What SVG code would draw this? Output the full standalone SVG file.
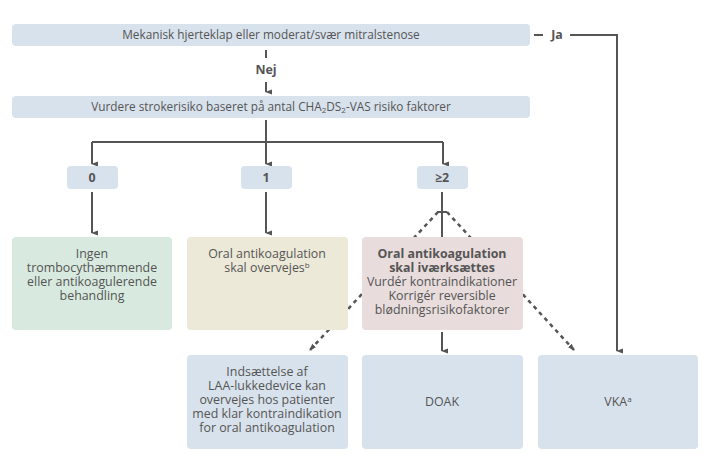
<svg xmlns="http://www.w3.org/2000/svg" width="710" height="473" viewBox="0 0 710 473">
<defs>
<marker id="a" viewBox="0 0 8 8" refX="4" refY="7" markerWidth="7" markerHeight="7" orient="auto-start-reverse" markerUnits="userSpaceOnUse"><path d="M1,0 L4,8 L7,0 Z" fill="#555"/></marker>
<marker id="ar" viewBox="0 0 8 8" refX="7" refY="4" markerWidth="7" markerHeight="7" orient="auto" markerUnits="userSpaceOnUse"><path d="M0,1 L8,4 L0,7 Z" fill="#555"/></marker>
</defs>
<style>
text{font-family:"Open Sans","Noto Sans",sans-serif;font-size:12.4px;fill:#555;text-anchor:middle}
.s{font-size:11.8px}
.b{font-weight:bold}
.blue{fill:#d8e2ec}
.l{stroke:#555;stroke-width:2;fill:none}
.d{stroke:#555;stroke-width:2.5;fill:none;stroke-dasharray:4 4}
</style>
<rect width="710" height="473" fill="#fff"/>
<g id="connectors">
<path class="d" d="M438,212 L310,350" marker-end="url(#ar)"/>
<path class="d" d="M447,212 L574,350" marker-end="url(#ar)"/>
<path class="l" d="M266,50 V58"/>
<path class="l" d="M266,82 V92" marker-end="url(#a)"/>
<path class="l" d="M266,120 V142 M92,142 H443"/>
<path class="l" d="M92,142 V164" marker-end="url(#a)"/>
<path class="l" d="M266,142 V164" marker-end="url(#a)"/>
<path class="l" d="M443,142 V164" marker-end="url(#a)"/>
<path class="l" d="M92,192 V233" marker-end="url(#a)"/>
<path class="l" d="M266,192 V233" marker-end="url(#a)"/>
<path class="l" d="M442,192 V237 M437,212 H447"/>
<path class="l" d="M442,332 V351" marker-end="url(#a)"/>
<path class="l" d="M534,35 H543 M570,35 H617 V351" marker-end="url(#a)"/>
<text x="266" y="74" class="b">Nej</text>
<text x="557" y="39" class="b">Ja</text>
</g>
<g id="n1"><rect class="blue" x="12" y="24" width="518" height="22" rx="4"/><text x="271" y="39" class="s">Mekanisk hjerteklap eller moderat/svær mitralstenose</text></g>
<g id="n2"><rect class="blue" x="12" y="96" width="518" height="22" rx="4"/><text x="271" y="111" class="s">Vurdere strokerisiko baseret på antal CHA<tspan font-size="8" dy="2">2</tspan><tspan dy="-2">DS</tspan><tspan font-size="8" dy="2">2</tspan><tspan dy="-2">-VAS risiko faktorer</tspan></text></g>
<g id="n0"><rect class="blue" x="67" y="166" width="51" height="23" rx="4"/><text x="92" y="182" class="b">0</text></g>
<g id="nOne"><rect class="blue" x="241" y="166" width="51" height="23" rx="4"/><text x="266" y="182" class="b">1</text></g>
<g id="n2p"><rect class="blue" x="417" y="166" width="51" height="23" rx="4"/><text x="442" y="182" class="b">≥2</text></g>
<g id="ingen"><rect x="12" y="237" width="160" height="93" rx="4" fill="#d8eadf"/><text x="92" y="258">Ingen</text><text x="92" y="272">trombocythæmmende</text><text x="92" y="286">eller antikoagulerende</text><text x="92" y="300">behandling</text></g>
<g id="oral1"><rect x="187" y="237" width="161" height="93" rx="4" fill="#ede9d9"/><text x="267" y="258">Oral antikoagulation</text><text x="267" y="272">skal overvejes<tspan font-size="8" dy="-4">b</tspan></text></g>
<g id="oral2"><rect x="362" y="237" width="161" height="93" rx="4" fill="#e8dcdc"/><text x="442" y="258" class="b">Oral antikoagulation</text><text x="442" y="272" class="b">skal iværksættes</text><text x="442" y="286">Vurdér kontraindikationer</text><text x="442" y="300">Korrigér reversible</text><text x="442" y="314">blødningsrisikofaktorer</text></g>
<g id="laa"><rect class="blue" x="187" y="355" width="161" height="94" rx="4"/><text x="267" y="376">Indsættelse af</text><text x="267" y="390">LAA-lukkedevice kan</text><text x="267" y="404">overvejes hos patienter</text><text x="267" y="418">med klar kontraindikation</text><text x="267" y="432">for oral antikoagulation</text></g>
<g id="doak"><rect class="blue" x="362" y="355" width="161" height="94" rx="4"/><text x="442" y="406">DOAK</text></g>
<g id="vka"><rect class="blue" x="538" y="355" width="160" height="94" rx="4"/><text x="618" y="406">VKA<tspan font-size="8" dy="-4">a</tspan></text></g>
</svg>
